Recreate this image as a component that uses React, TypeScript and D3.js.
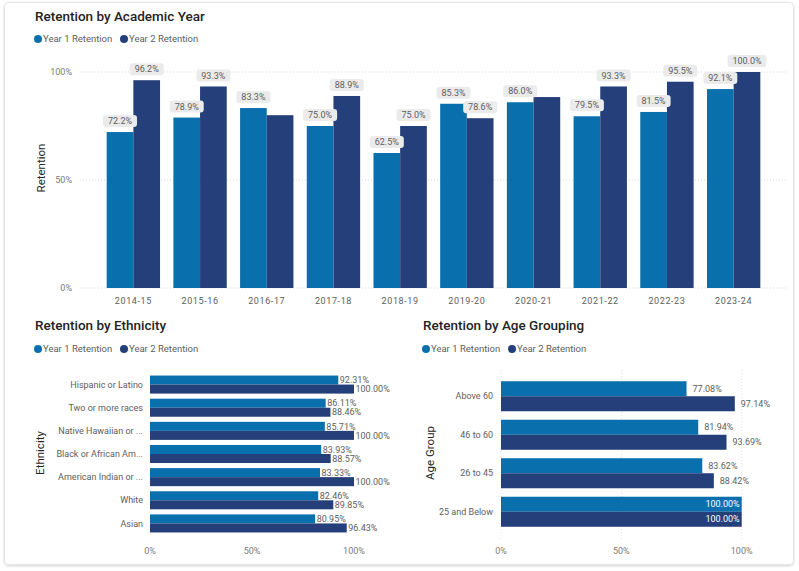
import React from 'react';
import * as d3 from 'd3';

const years = ['2014-15', '2015-16', '2016-17', '2017-18', '2018-19', '2019-20', '2020-21', '2021-22', '2022-23', '2023-24'];
const yearY1 = [72.2, 78.9, 83.3, 75.0, 62.5, 85.3, 86.0, 79.5, 81.5, 92.1];
const yearY2 = [96.2, 93.3, 80.0, 88.9, 75.0, 78.6, 88.4, 93.3, 95.5, 100.0];

const ethnicities = ['Hispanic or Latino', 'Two or more races', 'Native Hawaiian or ...', 'Black or African Am...', 'American Indian or ...', 'White', 'Asian'];
const ethY1 = [92.31, 86.11, 85.71, 83.93, 83.33, 82.46, 80.95];
const ethY2 = [100.0, 88.46, 100.0, 88.57, 100.0, 89.85, 96.43];

const ages = ['Above 60', '46 to 60', '26 to 45', '25 and Below'];
const ageY1 = [77.08, 81.94, 83.62, 100.0];
const ageY2 = [97.14, 93.69, 88.42, 100.0];

const pctTicks = [0, 50, 100];
const seriesNames = ['Year 1 Retention', 'Year 2 Retention'];

const C1 = '#0a70ad';
const C2 = '#243f79';
const FONT = 'Roboto, "Noto Sans", sans-serif';
const TITLE = '#252423';
const GRAY = '#605e5c';
const LIGHT = '#7a7a7a';

function Legend({ x, y }: { x: number; y: number }) {
  return (
    <g transform={`translate(${x},${y})`}>
      <circle cx={4} cy={0} r={4} fill={C1} />
      <text x={9} y={0} dy="0.35em" fontSize={9.5} fill={GRAY} fontFamily={FONT}>{seriesNames[0]}</text>
      <circle cx={90} cy={0} r={4} fill={C2} />
      <text x={95} y={0} dy="0.35em" fontSize={9.5} fill={GRAY} fontFamily={FONT}>{seriesNames[1]}</text>
    </g>
  );
}

function TopChart() {
  const x = d3.scaleBand<string>().domain(years).range([80, 787]).paddingInner(0.2).paddingOuter(0.4);
  const xs = d3.scaleBand<number>().domain([0, 1]).range([0, x.bandwidth()]);
  const y = d3.scaleLinear().domain([0, 100]).range([288, 72]);
  const series = [yearY1, yearY2];
  const placed: { x0: number; x1: number; y0: number; y1: number }[] = [];
  const labels: React.ReactNode[] = [];
  years.forEach((yr, i) => {
    series.forEach((s, k) => {
      const v = s[i];
      const txt = v.toFixed(1) + '%';
      const w = txt.length * 5 + 9;
      const h = 12;
      const cx = (x(yr) as number) + (xs(k) as number) + xs.bandwidth() / 2;
      const cy = y(v) - 11;
      const box = { x0: cx - w / 2, x1: cx + w / 2, y0: cy - h / 2, y1: cy + h / 2 };
      const hit = placed.some(b => b.x0 < box.x1 && box.x0 < b.x1 && b.y0 < box.y1 && box.y0 < b.y1);
      if (hit) return;
      placed.push(box);
      labels.push(
        <g key={`l${i}-${k}`}>
          <rect x={box.x0} y={box.y0} width={w} height={h} rx={3} fill="#ebebeb" />
          <text x={cx} y={cy} dy="0.35em" textAnchor="middle" fontSize={9} fill={GRAY} fontFamily={FONT}>{txt}</text>
        </g>
      );
    });
  });
  return (
    <g>
      <text x={35} y={21} fontSize={13.5} fontWeight={500} fill={TITLE} fontFamily={FONT}>Retention by Academic Year</text>
      <Legend x={34} y={39} />
      {pctTicks.map(t => (
        <g key={t}>
          <line x1={80} x2={787} y1={y(t)} y2={y(t)} stroke="#d9d9d9" strokeDasharray="1,2" />
          <text x={72} y={y(t)} dy="0.35em" textAnchor="end" fontSize={9} fill={LIGHT} fontFamily={FONT}>{t}%</text>
        </g>
      ))}
      <text transform={`translate(45,168) rotate(-90)`} textAnchor="middle" fontSize={11.5} fill={TITLE} fontFamily={FONT}>Retention</text>
      {years.map((yr, i) => (
        <g key={yr} transform={`translate(${x(yr)},0)`}>
          {series.map((s, k) => (
            <rect key={k} x={xs(k)} y={y(s[i])} width={xs.bandwidth()} height={y(0) - y(s[i])} fill={k === 0 ? C1 : C2} />
          ))}
          <text x={x.bandwidth() / 2} y={301} dy="0.35em" textAnchor="middle" fontSize={9} fill={GRAY} fontFamily={FONT} letterSpacing={0.6}>{yr}</text>
        </g>
      ))}
      {labels}
    </g>
  );
}

function HBarChart(props: {
  title: string; axisTitle: string; tx: number; cats: string[]; v1: number[]; v2: number[];
  x0: number; x1: number; y0: number; y1: number; titleAxisX: number; catRight: number;
  inside: boolean; grid: boolean; labelOffset: number;
}) {
  const { title, axisTitle, tx, cats, v1, v2, x0, x1, y0, y1, titleAxisX, catRight, inside, grid, labelOffset } = props;
  const y = d3.scaleBand<string>().domain(cats).range([y0, y1]).paddingInner(0.22).paddingOuter(0.11);
  const ys = d3.scaleBand<number>().domain([0, 1]).range([0, y.bandwidth()]);
  const x = d3.scaleLinear().domain([0, 100]).range([x0, x1]);
  const series = [v1, v2];
  return (
    <g>
      <text x={tx} y={330} fontSize={13.5} fontWeight={500} fill={TITLE} fontFamily={FONT}>{title}</text>
      <Legend x={tx - 1} y={349} />
      {grid && pctTicks.map(t => (
        <line key={t} x1={x(t)} x2={x(t)} y1={370} y2={540} stroke="#e3e3e3" strokeDasharray="1,2" />
      ))}
      {pctTicks.map(t => (
        <text key={t} x={x(t)} y={551} dy="0.35em" textAnchor="middle" fontSize={9} fill={LIGHT} fontFamily={FONT}>{t}%</text>
      ))}
      <text transform={`translate(${titleAxisX},453) rotate(-90)`} textAnchor="middle" fontSize={11.5} fill={TITLE} fontFamily={FONT}>{axisTitle}</text>
      {cats.map((c, i) => (
        <g key={c} transform={`translate(0,${y(c)})`}>
          <text x={catRight} y={y.bandwidth() / 2} dy="0.35em" textAnchor="end" fontSize={9} fill={GRAY} fontFamily={FONT}>{c}</text>
          {series.map((s, k) => {
            const v = s[i];
            const end = x(v);
            const cy = (ys(k) as number) + ys.bandwidth() / 2;
            const full = inside && v >= 99.99;
            return (
              <g key={k}>
                <rect x={x(0)} y={ys(k)} width={end - x(0)} height={ys.bandwidth()} fill={k === 0 ? C1 : C2} />
                <text x={full ? end - 2 : end + labelOffset} y={cy} dy="0.35em" textAnchor={full ? 'end' : 'start'}
                  fontSize={9} fill={full ? '#ffffff' : GRAY} fontFamily={FONT}>{v.toFixed(2)}%</text>
              </g>
            );
          })}
        </g>
      ))}
    </g>
  );
}

export default function App() {
  return (
    <svg width={799} height={571} style={{ position: 'absolute', left: 0, top: 0, background: '#fff' }}>
      <defs>
        <filter id="sh" x="-5%" y="-5%" width="110%" height="110%">
          <feDropShadow dx="0" dy="1" stdDeviation="1.2" floodColor="#000" floodOpacity="0.18" />
        </filter>
      </defs>
      <rect x={4.5} y={2.5} width={789} height={562} rx={4} fill="#fff" stroke="#e6e6e6" filter="url(#sh)" />
      <TopChart />
      <HBarChart title="Retention by Ethnicity" axisTitle="Ethnicity" tx={35} cats={ethnicities} v1={ethY1} v2={ethY2}
        x0={150} x1={354} y0={373} y1={535} titleAxisX={44} catRight={143} inside={false} grid={false} labelOffset={1.5} />
      <HBarChart title="Retention by Age Grouping" axisTitle="Age Group" tx={423} cats={ages} v1={ageY1} v2={ageY2}
        x0={501} x1={741.7} y0={377} y1={531} titleAxisX={434} catRight={493} inside={true} grid={true} labelOffset={6} />
    </svg>
  );
}
